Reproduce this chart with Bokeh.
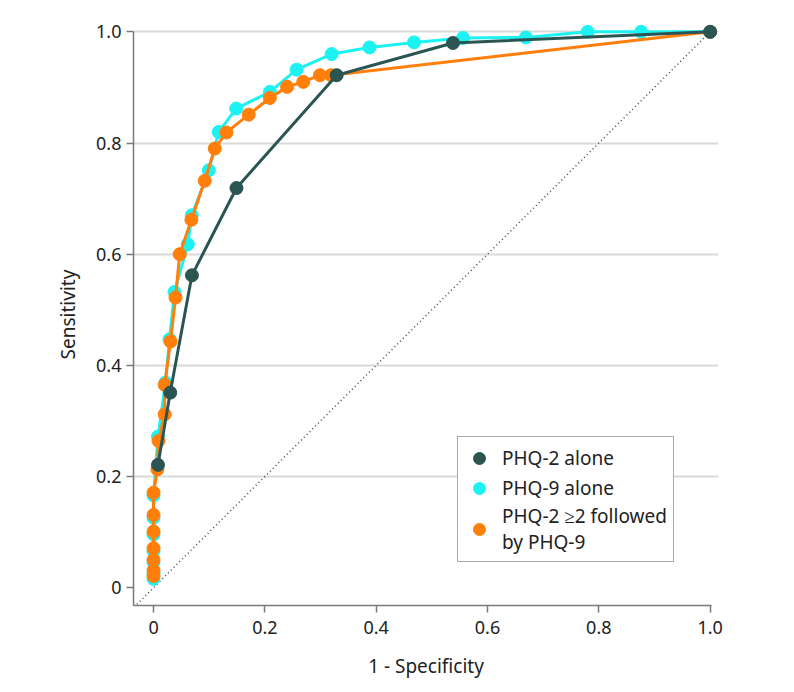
from bokeh.plotting import figure
from bokeh.models import Range1d, FixedTicker, Legend, LegendItem
from bokeh.embed import file_html
from bokeh.resources import INLINE

# ---- data ----
phq2_x = [0.008, 0.030, 0.069, 0.149, 0.329, 0.538, 1.0]
phq2_y = [0.221, 0.351, 0.562, 0.719, 0.922, 0.980, 1.0]

phq9_x = [0.0, 0.0, 0.0, 0.0, 0.0, 0.0, 0.0, 0.008, 0.0215, 0.0287, 0.0377, 0.0616,
          0.0688, 0.0994, 0.117, 0.1485, 0.209, 0.257, 0.320, 0.388, 0.468, 0.556,
          0.669, 0.780, 0.876, 1.0]
phq9_y = [0.016, 0.026, 0.046, 0.066, 0.096, 0.126, 0.166, 0.272, 0.369, 0.447, 0.532, 0.618,
          0.670, 0.751, 0.820, 0.862, 0.892, 0.932, 0.960, 0.972, 0.981, 0.989,
          0.990, 1.0, 1.0, 1.0]

combo_x = [0.0, 0.0, 0.0, 0.0, 0.0, 0.0, 0.0, 0.007, 0.009, 0.020, 0.020, 0.0305, 0.0395,
           0.047, 0.068, 0.092, 0.110, 0.131, 0.171, 0.209, 0.240, 0.269, 0.299, 0.319, 1.0]
combo_y = [0.021, 0.031, 0.050, 0.071, 0.101, 0.131, 0.171, 0.213, 0.264, 0.312, 0.365, 0.443, 0.522,
           0.600, 0.662, 0.732, 0.790, 0.819, 0.851, 0.881, 0.901, 0.910, 0.922, 0.922, 1.0]

chance = [-0.04, 1.0]

series_names = ["PHQ-2 alone", "PHQ-9 alone", "PHQ-2 \u22652 followed\nby PHQ-9"]
tick_values = [0, 0.2, 0.4, 0.6, 0.8, 1.0]
tick_overrides = {0: "0", 1: "1.0"}

DARK = "#2b5553"
CYAN = "#1cf2f2"
ORANGE = "#ff7f0a"
FONT = "Noto Sans"

p = figure(width=778, height=684, output_backend="svg", toolbar_location=None,
           x_range=Range1d(-0.036, 1.015), y_range=Range1d(-0.032, 1.015),
           min_border_left=133, min_border_right=60, min_border_top=23, min_border_bottom=79)
p.outline_line_color = None
p.background_fill_color = "white"
p.border_fill_color = "white"

# grid
p.xgrid.visible = False
p.ygrid.ticker = FixedTicker(ticks=tick_values[1:])
p.ygrid.grid_line_color = "#d9d9d9"
p.ygrid.grid_line_width = 2

# axes
for ax, bounds in ((p.xaxis[0], (-0.036, 1.003)), (p.yaxis[0], (-0.032, 1.0))):
    ax.ticker = FixedTicker(ticks=tick_values)
    ax.major_label_overrides = tick_overrides
    ax.bounds = bounds
    ax.minor_tick_line_color = None
    ax.major_tick_in = 0
    ax.major_tick_out = 7
    ax.axis_line_color = "#7a7a7a"
    ax.axis_line_width = 1.5
    ax.major_tick_line_color = "#7a7a7a"
    ax.major_tick_line_width = 1.5
    ax.major_label_text_font = FONT
    ax.major_label_text_font_size = "18px"
    ax.major_label_text_color = "#222222"
    ax.axis_label_text_font = FONT
    ax.axis_label_text_font_size = "19px"
    ax.axis_label_text_font_style = "normal"
    ax.axis_label_text_color = "#222222"

p.xaxis.axis_label = "1 - Specificity"
p.yaxis.axis_label = "Sensitivity"
p.xaxis.major_label_standoff = 8
p.yaxis.major_label_standoff = 5
p.xaxis.axis_label_standoff = 16
p.yaxis.axis_label_standoff = 12

# chance diagonal
p.line(chance, chance, line_color="#444444", line_width=1.5, line_dash="1 3")

# series (draw order: cyan, orange, dark)
p.line(phq9_x, phq9_y, line_color=CYAN, line_width=3)
s9 = p.scatter(phq9_x, phq9_y, size=13, fill_color=CYAN, line_color=CYAN)
p.line(combo_x, combo_y, line_color=ORANGE, line_width=3)
sc = p.scatter(combo_x, combo_y, size=13, fill_color=ORANGE, line_color=ORANGE)
p.line(phq2_x, phq2_y, line_color=DARK, line_width=3)
s2 = p.scatter(phq2_x, phq2_y, size=13, fill_color=DARK, line_color=DARK)

legend = Legend(items=[LegendItem(label=series_names[0], renderers=[s2]),
                       LegendItem(label=series_names[1], renderers=[s9]),
                       LegendItem(label=series_names[2], renderers=[sc])],
                location=(324, 43))
legend.label_text_font = FONT
legend.label_text_font_size = "19px"
legend.label_text_color = "#222222"
legend.label_text_line_height = 1.35
legend.border_line_color = "#555555"
legend.border_line_width = 1.5
legend.background_fill_alpha = 1
legend.padding = 6
legend.spacing = 0
legend.margin = 0
legend.glyph_width = 30
legend.glyph_height = 30
legend.label_height = 26
legend.label_standoff = 8
p.add_layout(legend, "center")

open("out.html", "w").write(file_html(p, INLINE))
